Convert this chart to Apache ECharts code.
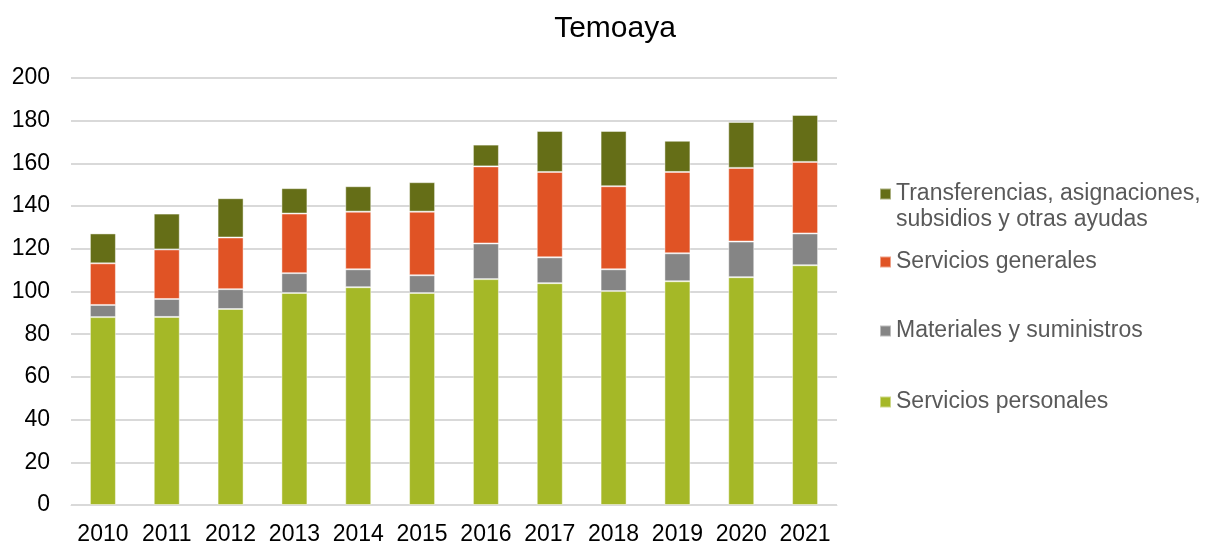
<!DOCTYPE html>
<html>
<head>
<meta charset="utf-8">
<script src="https://cdn.jsdelivr.net/npm/echarts@6/dist/echarts.min.js"></script>
<style>
  html, body { margin: 0; padding: 0; background: #fff; }
  #main { width: 1223px; height: 546px; }
</style>
</head>
<body>
<div id="main"></div>
<script>
// years on the x axis
const years = ['2010', '2011', '2012', '2013', '2014', '2015', '2016', '2017', '2018', '2019', '2020', '2021'];

// stacked values
const serviciosPersonales = [88.0, 88.1, 91.8, 99.3, 102.0, 99.3, 105.8, 103.9, 100.2, 104.8, 106.7, 112.3];
const materiales = [5.7, 8.4, 9.3, 9.3, 8.4, 8.3, 16.7, 12.1, 10.2, 13.1, 16.7, 14.9];
const serviciosGenerales = [19.5, 23.2, 24.2, 27.9, 27.0, 29.8, 36.1, 40.0, 38.9, 38.1, 34.5, 33.5];
const transferencias = [14.0, 16.8, 18.4, 11.9, 11.9, 13.8, 10.2, 19.2, 25.9, 14.6, 21.5, 22.0];

const yTicks = [0, 20, 40, 60, 80, 100, 120, 140, 160, 180, 200];

const font = 'Liberation Sans, Arial, sans-serif';
const names = {
  t: 'Transferencias, asignaciones,\nsubsidios y otras ayudas',
  g: 'Servicios generales',
  m: 'Materiales y suministros',
  p: 'Servicios personales'
};

let chart = echarts.init(document.getElementById('main'));

function bar(name, data, color) {
  return {
    name: name,
    type: 'bar',
    stack: 'total',
    data: data,
    barWidth: 26,
    itemStyle: { color: color, borderColor: 'rgba(255,255,255,0.45)', borderWidth: 1 },
    emphasis: { disabled: true }
  };
}

function legendAt(name, top, extra) {
  return Object.assign({
    data: [name],
    left: 879,
    top: top,
    padding: 0,
    icon: 'rect',
    itemWidth: 11,
    itemHeight: 11,
    itemGap: 6,
    selectedMode: false,
    textStyle: { fontFamily: font, fontSize: 23, color: '#595959', lineHeight: 26 }
  }, extra || {});
}

let option = {
  animation: false,
  title: {
    text: 'Temoaya',
    left: 610,
    top: 9,
    textAlign: 'center',
    textStyle: { fontFamily: font, fontSize: 30, fontWeight: 'normal', color: '#000' }
  },
  grid: { left: 71, right: 386, top: 78, bottom: 37 },
  legend: [
    // blank first line so the marker sits beside the first text line
    legendAt(names.t, 155, { formatter: n => ' \n' + n }),
    legendAt(names.g, 249),
    legendAt(names.m, 318),
    legendAt(names.p, 389)
  ],
  xAxis: {
    type: 'category',
    data: years,
    axisLine: { lineStyle: { color: '#d9d9d9', width: 1 } },
    axisTick: { show: false },
    axisLabel: { fontFamily: font, fontSize: 23, color: '#000', margin: 18, interval: 0 }
  },
  yAxis: {
    type: 'value',
    min: yTicks[0],
    max: yTicks[yTicks.length - 1],
    interval: yTicks[1] - yTicks[0],
    axisLine: { show: false },
    axisTick: { show: false },
    axisLabel: { fontFamily: font, fontSize: 23, color: '#000', margin: 21 },
    splitLine: { lineStyle: { color: '#d9d9d9', width: 2 } }
  },
  series: [
    bar(names.p, serviciosPersonales, '#a5b827'),
    bar(names.m, materiales, '#858585'),
    bar(names.g, serviciosGenerales, '#e05325'),
    bar(names.t, transferencias, '#656e17')
  ]
};

chart.setOption(option);
</script>
</body>
</html>
